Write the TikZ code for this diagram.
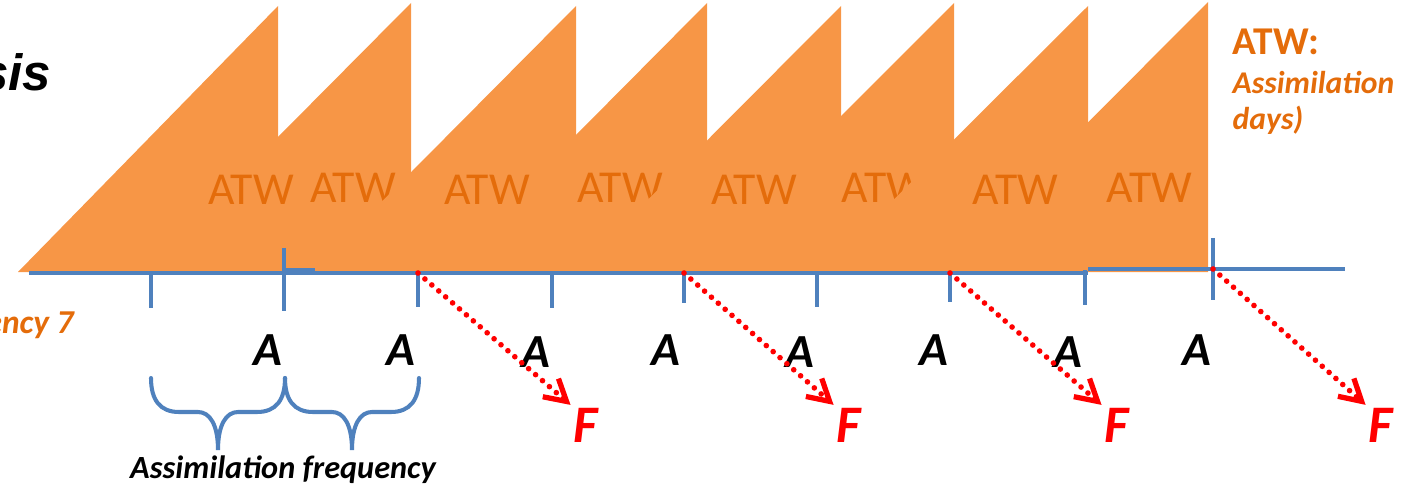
\documentclass[tikz,border=0pt]{standalone}
\usepackage{fontspec}
\setmainfont{Carlito}
\newfontfamily\titlefont{Liberation Sans}
\usetikzlibrary{arrows.meta}
\definecolor{atworange}{RGB}{247,150,70}
\definecolor{atwtext}{RGB}{228,108,10}
\definecolor{axisblue}{RGB}{79,129,189}
\tikzset{
sawtooth/.style={fill=atworange,draw=none},
atwlabel/.style={text=atwtext,font=\fontsize{13}{15}\selectfont,inner sep=0pt},
axisline/.style={draw=axisblue,line width=1.15pt},
tickmark/.style={draw=axisblue,line width=1.15pt},
bracepath/.style={draw=axisblue,line width=1.15pt,line cap=round},
dotarrow/.style={red,line width=1.6pt,line cap=round,dash pattern=on 0pt off 2.6pt,
-{Straight Barb[length=2.1mm,width=2.4mm,line width=1.5pt]},shorten >=1pt},
alabel/.style={font=\fontsize{13.5}{16}\selectfont\bfseries\itshape,inner sep=0pt},
flabel/.style={text=red,font=\fontsize{15}{18}\selectfont\bfseries\itshape,inner sep=0pt},
notetext/.style={text=atwtext,font=\fontsize{9}{11}\selectfont\bfseries\itshape,inner sep=0pt,anchor=base west},
freqtext/.style={font=\fontsize{9.2}{11}\selectfont\bfseries\itshape,inner sep=0pt}
}

\begin{document}
\begin{tikzpicture}[x=0.01cm,y=-0.01cm]
\useasboundingbox (0,0) rectangle (1403,491);

% even teeth below
\fill[sawtooth] (144,272) -- (411,3) -- (411,272) -- cycle;
\node[atwlabel] (atw2) at (353,188) {ATW};
\fill[sawtooth] (440,272) -- (707,3) -- (707,272) -- cycle;
\node[atwlabel] (atw4) at (620,188) {ATW};
\fill[sawtooth] (685,272) -- (954,3) -- (954,272) -- cycle;
\node[atwlabel] (atw6) at (884,188) {ATW};
\fill[sawtooth] (939,272) -- (1208,2) -- (1208,272) -- cycle;
\node[atwlabel] (atw8) at (1149,188) {ATW};

% odd teeth on top
\fill[sawtooth] (18,272) -- (278,6) -- (278,272) -- cycle;
\node[atwlabel] (atw1) at (251,190) {ATW};
\fill[sawtooth] (312,272) -- (576,6) -- (576,272) -- cycle;
\node[atwlabel] (atw3) at (487,190) {ATW};
\fill[sawtooth] (576,272) -- (841,6) -- (841,272) -- cycle;
\node[atwlabel] (atw5) at (754,190) {ATW};
\fill[sawtooth] (821,272) -- (1088,6) -- (1088,272) -- cycle;
\node[atwlabel] (atw7) at (1015,190) {ATW};

% time axis
\draw[axisline] (29,273) -- (1088,273);
\draw[axisline] (1088,269) -- (1345,269);
\draw[axisline] (285,270.5) -- (315,270.5);
\coordinate (t0) at (151,273);
\coordinate (t1) at (284,273);
\coordinate (t2) at (418,273);
\coordinate (t3) at (552,273);
\coordinate (t4) at (684,273);
\coordinate (t5) at (817,273);
\coordinate (t6) at (950,273);
\coordinate (t7) at (1085,270);
\coordinate (t8) at (1213,269);
\draw[tickmark] (t0) -- ++(0,35);
\draw[tickmark] (t1) ++(0,-25) -- ++(0,63);
\draw[tickmark] (t2) -- ++(0,34);
\draw[tickmark] (t3) -- ++(0,35);
\draw[tickmark] (t4) -- ++(0,30);
\draw[tickmark] (t5) -- ++(0,34);
\draw[tickmark] (t6) -- ++(0,29);
\draw[tickmark] (t7) -- ++(0,35);
\draw[tickmark] (t8) ++(0,-31) -- ++(0,62);

% assimilation times
\node[alabel] (a1) at (268,350) {A};
\node[alabel] (a2) at (401,350) {A};
\node[alabel] (a3) at (536,352) {A};
\node[alabel] (a4) at (666,350) {A};
\node[alabel] (a5) at (800,352) {A};
\node[alabel] (a6) at (934,350) {A};
\node[alabel] (a7) at (1068,352) {A};
\node[alabel] (a8) at (1197,350) {A};

% forecasts
\node[flabel] (f1) at (586,425) {F};
\node[flabel] (f2) at (849,425) {F};
\node[flabel] (f3) at (1117,425) {F};
\node[flabel] (f4) at (1381,425) {F};
\draw[dotarrow] (t2) -- (f1.north west);
\draw[dotarrow] (t4) -- (f2.north west);
\draw[dotarrow] (t6) -- (f3.north west);
\draw[dotarrow] (t8) -- (f4.north west);

% braces
\coordinate (b0) at (151,378);
\coordinate (b1) at (285,378);
\draw[bracepath] (b0) .. controls +(0,22) and +(-19,0) .. ++(28,34) -- ++(19,0)
  .. controls +(12,0) and +(0,-25) .. ++(20,38)
  .. controls +(0,-25) and +(-12,0) .. ++(20,-38) -- ++(19,0)
  .. controls +(19,0) and +(0,22) .. ++(28,-34);
\draw[bracepath] (b1) .. controls +(0,22) and +(-19,0) .. ++(28,34) -- ++(19,0)
  .. controls +(12,0) and +(0,-25) .. ++(20,38)
  .. controls +(0,-25) and +(-12,0) .. ++(20,-38) -- ++(19,0)
  .. controls +(19,0) and +(0,22) .. ++(28,-34);
\node[freqtext] (freqlabel) at (283,470) {Assimilation frequency};

% side texts
\node[anchor=base east,inner sep=0pt,font=\titlefont\bfseries\itshape\fontsize{14.5}{17}\selectfont] (title) at (52,91) {sis};
\node[notetext,font=\fontsize{9.5}{11}\selectfont\bfseries\itshape] (freqnote) at (-15,333) {ency 7};
\node[notetext,font=\fontsize{11.2}{13}\selectfont\bfseries] (atwnote) at (1232,55) {ATW:};
\node[notetext] (atwdef) at (1232,94) {Assimilation};
\node[notetext] (atwdays) at (1232,130) {days)};
\end{tikzpicture}
\end{document}
